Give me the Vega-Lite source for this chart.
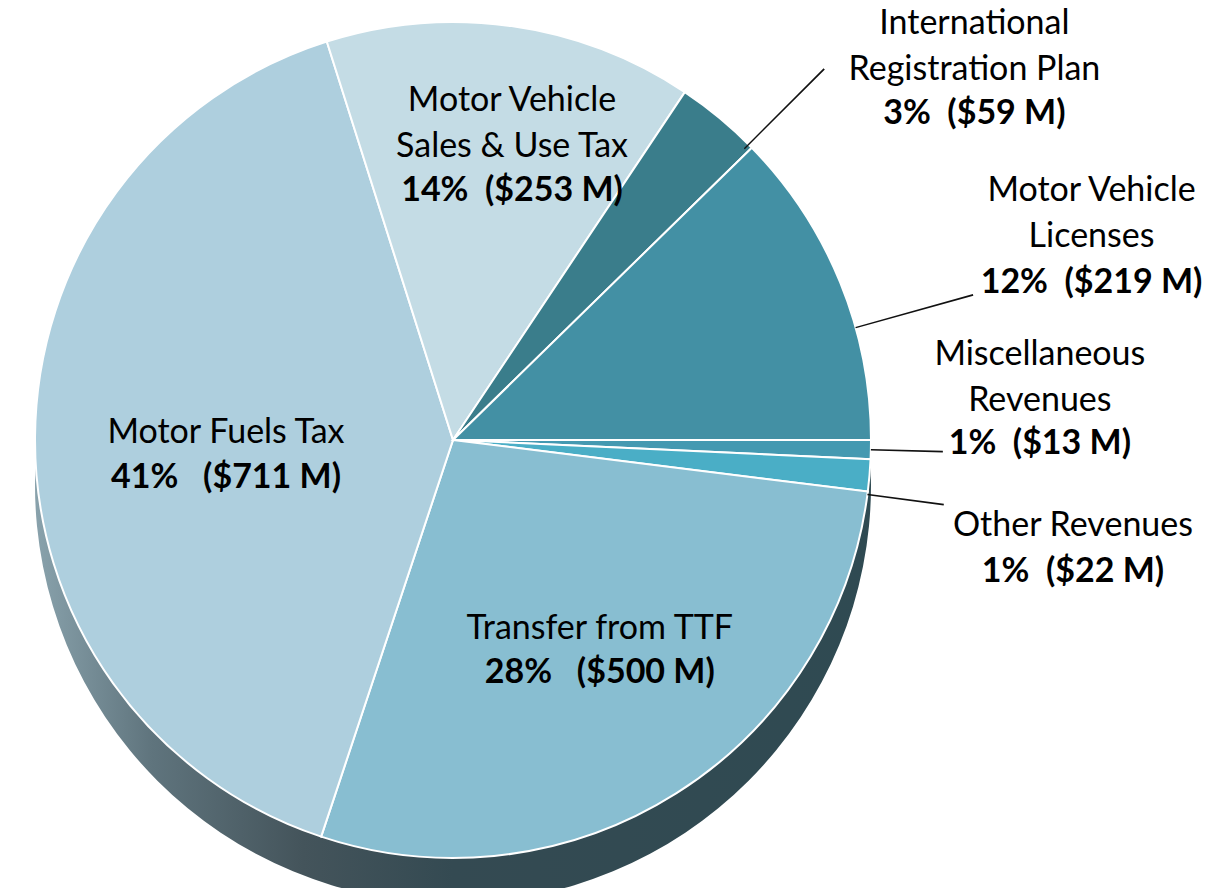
{
  "$schema": "https://vega.github.io/schema/vega-lite/v6.json",
  "width": 906,
  "height": 880,
  "autosize": {"type": "none"},
  "padding": {"left": 0, "top": 0, "right": 303, "bottom": 8},
  "background": "white",
  "config": {"view": {"stroke": null}, "text": {"font": "Lato", "color": "#000000"}},
  "data": {
    "values": [
      {"key": "Misc", "idx": 1, "value": 13, "name": "Miscellaneous\nRevenues", "amount": "1%\u00a0\u00a0($13 M)"},
      {"key": "Other", "idx": 2, "value": 22, "name": "Other Revenues", "amount": "1%\u00a0\u00a0($22 M)"},
      {"key": "TTF", "idx": 3, "value": 500, "name": "Transfer from TTF", "amount": "28%\u00a0\u00a0\u00a0($500 M)"},
      {"key": "Fuels", "idx": 4, "value": 711, "name": "Motor Fuels Tax", "amount": "41%\u00a0\u00a0\u00a0($711 M)"},
      {"key": "Sales", "idx": 5, "value": 253, "name": "Motor Vehicle\nSales & Use Tax", "amount": "14%\u00a0\u00a0($253 M)"},
      {"key": "IRP", "idx": 6, "value": 59, "name": "International\nRegistration Plan", "amount": "3%\u00a0\u00a0($59 M)"},
      {"key": "Lic", "idx": 7, "value": 219, "name": "Motor Vehicle\nLicenses", "amount": "12%\u00a0\u00a0($219 M)"}
    ]
  },
  "layer": [
    {
      "transform": [{"aggregate": [{"op": "sum", "field": "value", "as": "value"}]}],
      "mark": {
        "type": "arc", "radius": 418, "yOffset": 45,
        "fill": {"gradient": "linear", "x1": 0, "y1": 0, "x2": 1, "y2": 0,
          "stops": [
            {"offset": 0, "color": "#89a2ac"},
            {"offset": 0.14, "color": "#5f747d"},
            {"offset": 0.32, "color": "#44545b"},
            {"offset": 0.5, "color": "#344a52"},
            {"offset": 1, "color": "#2f4a52"}
          ]}
      },
      "encoding": {
        "theta": {"field": "value", "type": "quantitative", "stack": true, "scale": {"range": [1.5708, 7.854]}}
      }
    },
    {
      "mark": {"type": "arc", "radius": 418, "stroke": "white", "strokeWidth": 2},
      "encoding": {
        "theta": {"field": "value", "type": "quantitative", "stack": true, "scale": {"range": [1.5708, 7.854]}},
        "order": {"field": "idx", "type": "quantitative"},
        "color": {"field": "key", "type": "nominal", "legend": null,
          "scale": {"domain": ["Misc", "Other", "TTF", "Fuels", "Sales", "IRP", "Lic"],
                    "range": ["#4499b1", "#4aaec6", "#88bed1", "#aecfde", "#c4dce5", "#3a7d8b", "#4390a4"]}}
      }
    },
    {
      "transform": [{"filter": "datum.key === 'IRP'"}],
      "mark": {"type": "arc", "theta": 0.7837, "theta2": 0.7871, "radius": 525, "radius2": 412, "color": "#111111"},
      "encoding": {}
    },
    {
      "transform": [{"filter": "datum.key === 'Lic'"}],
      "mark": {"type": "arc", "theta": 1.2968, "theta2": 1.3003, "radius": 540, "radius2": 418, "color": "#111111"},
      "encoding": {}
    },
    {
      "transform": [{"filter": "datum.key === 'Misc'"}],
      "mark": {"type": "arc", "theta": 1.5926, "theta2": 1.5961, "radius": 490, "radius2": 418, "color": "#111111"},
      "encoding": {}
    },
    {
      "transform": [{"filter": "datum.key === 'Other'"}],
      "mark": {"type": "arc", "theta": 1.6999, "theta2": 1.7035, "radius": 495, "radius2": 418, "color": "#111111"},
      "encoding": {}
    },
    {
      "mark": {"type": "text", "radius": 227, "dy": 5, "align": "center", "baseline": "alphabetic", "fontSize": 34, "lineBreak": "\n", "lineHeight": 46},
      "encoding": {
        "theta": {"field": "value", "type": "quantitative", "stack": true},
        "order": {"field": "idx", "type": "quantitative"},
        "text": {"field": "name"},
        "opacity": {"condition": {"test": "datum.key === 'Fuels'", "value": 1}, "value": 0}
      }
    },
    {
      "mark": {"type": "text", "radius": 227, "dy": 50, "align": "center", "baseline": "alphabetic", "fontSize": 34, "fontWeight": "bold"},
      "encoding": {
        "theta": {"field": "value", "type": "quantitative", "stack": true},
        "order": {"field": "idx", "type": "quantitative"},
        "text": {"field": "amount"},
        "opacity": {"condition": {"test": "datum.key === 'Fuels'", "value": 1}, "value": 0}
      }
    },
    {
      "mark": {"type": "text", "radius": 275, "dy": -34, "align": "center", "baseline": "alphabetic", "fontSize": 34, "lineBreak": "\n", "lineHeight": 46},
      "encoding": {
        "theta": {"field": "value", "type": "quantitative", "stack": true},
        "order": {"field": "idx", "type": "quantitative"},
        "text": {"field": "name"},
        "opacity": {"condition": {"test": "datum.key === 'TTF'", "value": 1}, "value": 0}
      }
    },
    {
      "mark": {"type": "text", "radius": 275, "dy": 10, "align": "center", "baseline": "alphabetic", "fontSize": 34, "fontWeight": "bold"},
      "encoding": {
        "theta": {"field": "value", "type": "quantitative", "stack": true},
        "order": {"field": "idx", "type": "quantitative"},
        "text": {"field": "amount"},
        "opacity": {"condition": {"test": "datum.key === 'TTF'", "value": 1}, "value": 0}
      }
    },
    {
      "mark": {"type": "text", "radius": 300, "dx": 17, "dy": -32, "align": "center", "baseline": "alphabetic", "fontSize": 34, "lineBreak": "\n", "lineHeight": 46},
      "encoding": {
        "theta": {"field": "value", "type": "quantitative", "stack": true},
        "order": {"field": "idx", "type": "quantitative"},
        "text": {"field": "name"},
        "opacity": {"condition": {"test": "datum.key === 'Sales'", "value": 1}, "value": 0}
      }
    },
    {
      "mark": {"type": "text", "radius": 300, "dx": 17, "dy": 58, "align": "center", "baseline": "alphabetic", "fontSize": 34, "fontWeight": "bold"},
      "encoding": {
        "theta": {"field": "value", "type": "quantitative", "stack": true},
        "order": {"field": "idx", "type": "quantitative"},
        "text": {"field": "amount"},
        "opacity": {"condition": {"test": "datum.key === 'Sales'", "value": 1}, "value": 0}
      }
    },
    {
      "mark": {"type": "text", "radius": 560, "dx": 164, "dy": 25, "align": "center", "baseline": "alphabetic", "fontSize": 34, "lineBreak": "\n", "lineHeight": 46},
      "encoding": {
        "theta": {"field": "value", "type": "quantitative", "stack": true},
        "order": {"field": "idx", "type": "quantitative"},
        "text": {"field": "name"},
        "opacity": {"condition": {"test": "datum.key === 'IRP'", "value": 1}, "value": 0}
      }
    },
    {
      "mark": {"type": "text", "radius": 560, "dx": 164, "dy": 115, "align": "center", "baseline": "alphabetic", "fontSize": 34, "fontWeight": "bold"},
      "encoding": {
        "theta": {"field": "value", "type": "quantitative", "stack": true},
        "order": {"field": "idx", "type": "quantitative"},
        "text": {"field": "amount"},
        "opacity": {"condition": {"test": "datum.key === 'IRP'", "value": 1}, "value": 0}
      }
    },
    {
      "mark": {"type": "text", "radius": 560, "dx": 120, "dy": -28, "align": "center", "baseline": "alphabetic", "fontSize": 34, "lineBreak": "\n", "lineHeight": 46},
      "encoding": {
        "theta": {"field": "value", "type": "quantitative", "stack": true},
        "order": {"field": "idx", "type": "quantitative"},
        "text": {"field": "name"},
        "opacity": {"condition": {"test": "datum.key === 'Lic'", "value": 1}, "value": 0}
      }
    },
    {
      "mark": {"type": "text", "radius": 560, "dx": 120, "dy": 64, "align": "center", "baseline": "alphabetic", "fontSize": 34, "fontWeight": "bold"},
      "encoding": {
        "theta": {"field": "value", "type": "quantitative", "stack": true},
        "order": {"field": "idx", "type": "quantitative"},
        "text": {"field": "amount"},
        "opacity": {"condition": {"test": "datum.key === 'Lic'", "value": 1}, "value": 0}
      }
    },
    {
      "mark": {"type": "text", "radius": 560, "dx": 27, "dy": -88, "align": "center", "baseline": "alphabetic", "fontSize": 34, "lineBreak": "\n", "lineHeight": 46},
      "encoding": {
        "theta": {"field": "value", "type": "quantitative", "stack": true},
        "order": {"field": "idx", "type": "quantitative"},
        "text": {"field": "name"},
        "opacity": {"condition": {"test": "datum.key === 'Misc'", "value": 1}, "value": 0}
      }
    },
    {
      "mark": {"type": "text", "radius": 560, "dx": 27, "dy": 1, "align": "center", "baseline": "alphabetic", "fontSize": 34, "fontWeight": "bold"},
      "encoding": {
        "theta": {"field": "value", "type": "quantitative", "stack": true},
        "order": {"field": "idx", "type": "quantitative"},
        "text": {"field": "amount"},
        "opacity": {"condition": {"test": "datum.key === 'Misc'", "value": 1}, "value": 0}
      }
    },
    {
      "mark": {"type": "text", "radius": 560, "dx": 62, "dy": 49, "align": "center", "baseline": "alphabetic", "fontSize": 34, "lineBreak": "\n", "lineHeight": 46},
      "encoding": {
        "theta": {"field": "value", "type": "quantitative", "stack": true},
        "order": {"field": "idx", "type": "quantitative"},
        "text": {"field": "name"},
        "opacity": {"condition": {"test": "datum.key === 'Other'", "value": 1}, "value": 0}
      }
    },
    {
      "mark": {"type": "text", "radius": 560, "dx": 62, "dy": 95, "align": "center", "baseline": "alphabetic", "fontSize": 34, "fontWeight": "bold"},
      "encoding": {
        "theta": {"field": "value", "type": "quantitative", "stack": true},
        "order": {"field": "idx", "type": "quantitative"},
        "text": {"field": "amount"},
        "opacity": {"condition": {"test": "datum.key === 'Other'", "value": 1}, "value": 0}
      }
    }
  ]
}
